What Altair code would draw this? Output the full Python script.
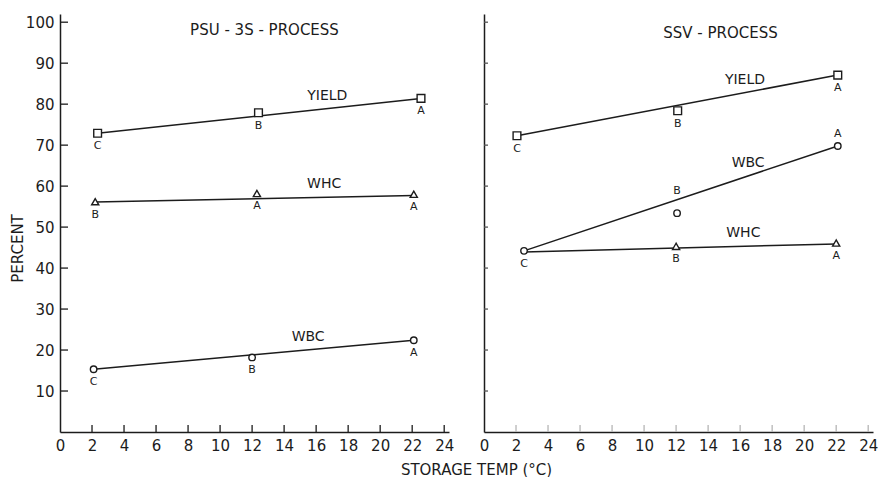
import altair as alt
import pandas as pd

FONT = "DejaVu Sans"
INK = "#1c1c1c"

# ---- measurements: storage temperature (°C), percent, grouping letter ----
panel_names = ["PSU - 3S - PROCESS", "SSV - PROCESS"]
series_names = ["YIELD", "WHC", "WBC"]
series_shapes = ["square", "triangle-up", "circle"]

psu_yield_temp = [2.35, 12.4, 22.55]
psu_yield_pct = [72.9, 77.9, 81.4]
psu_yield_grp = ["C", "B", "A"]

psu_whc_temp = [2.2, 12.3, 22.1]
psu_whc_pct = [56.2, 58.2, 58.0]
psu_whc_grp = ["B", "A", "A"]

psu_wbc_temp = [2.1, 12.0, 22.1]
psu_wbc_pct = [15.3, 18.2, 22.4]
psu_wbc_grp = ["C", "B", "A"]

ssv_yield_temp = [2.06, 12.1, 22.1]
ssv_yield_pct = [72.3, 78.4, 87.1]
ssv_yield_grp = ["C", "B", "A"]

ssv_wbc_temp = [2.5, 12.06, 22.1]
ssv_wbc_pct = [44.2, 53.4, 69.8]
ssv_wbc_grp = ["C", "B", "A"]
ssv_wbc_side = ["below", "high", "above"]

ssv_whc_temp = [12.0, 22.0]
ssv_whc_pct = [45.3, 46.1]
ssv_whc_grp = ["B", "A"]

# fitted trend lines (end points)
psu_yield_fit_temp = [2.35, 22.55]
psu_yield_fit_pct = [72.9, 81.4]
psu_whc_fit_temp = [2.2, 22.1]
psu_whc_fit_pct = [56.1, 57.7]
psu_wbc_fit_temp = [2.1, 22.1]
psu_wbc_fit_pct = [15.3, 22.4]
ssv_yield_fit_temp = [2.06, 22.1]
ssv_yield_fit_pct = [72.3, 87.1]
ssv_wbc_fit_temp = [2.5, 22.1]
ssv_wbc_fit_pct = [44.2, 69.8]
ssv_whc_fit_temp = [2.5, 22.0]
ssv_whc_fit_pct = [43.9, 45.9]

# temperature at which each series name is written along its line
psu_label_temp = {"YIELD": 16.7, "WHC": 16.5, "WBC": 15.5}
ssv_label_temp = {"YIELD": 16.3, "WHC": 16.2, "WBC": 16.5}

x_tick_values = [0, 2, 4, 6, 8, 10, 12, 14, 16, 18, 20, 22, 24]
x_tick_marks = [2, 4, 6, 8, 10, 12, 14, 16, 18, 20, 22, 24]
y_tick_values = [10, 20, 30, 40, 50, 60, 70, 80, 90, 100]

# ---- tables ----
point_rows, fit_rows, label_rows = [], [], []

def add_points(panel, series, temps, pcts, grps, sides=None):
    for i, (t, p, g) in enumerate(zip(temps, pcts, grps)):
        point_rows.append({"panel": panel, "series": series, "temp": t, "pct": p,
                           "grp": g, "side": sides[i] if sides else "below"})

def add_fit(panel, series, temps, pcts, label_t):
    for t, p in zip(temps, pcts):
        fit_rows.append({"panel": panel, "series": series, "temp": t, "pct": p})
    t0, t1 = temps
    p0, p1 = pcts
    label_rows.append({"panel": panel, "series": series, "temp": label_t,
                       "pct": p0 + (p1 - p0) * (label_t - t0) / (t1 - t0)})

psu, ssv = panel_names
add_points(psu, "YIELD", psu_yield_temp, psu_yield_pct, psu_yield_grp)
add_points(psu, "WHC", psu_whc_temp, psu_whc_pct, psu_whc_grp)
add_points(psu, "WBC", psu_wbc_temp, psu_wbc_pct, psu_wbc_grp)
add_points(ssv, "YIELD", ssv_yield_temp, ssv_yield_pct, ssv_yield_grp)
add_points(ssv, "WBC", ssv_wbc_temp, ssv_wbc_pct, ssv_wbc_grp, ssv_wbc_side)
add_points(ssv, "WHC", ssv_whc_temp, ssv_whc_pct, ssv_whc_grp)

add_fit(psu, "YIELD", psu_yield_fit_temp, psu_yield_fit_pct, psu_label_temp["YIELD"])
add_fit(psu, "WHC", psu_whc_fit_temp, psu_whc_fit_pct, psu_label_temp["WHC"])
add_fit(psu, "WBC", psu_wbc_fit_temp, psu_wbc_fit_pct, psu_label_temp["WBC"])
add_fit(ssv, "YIELD", ssv_yield_fit_temp, ssv_yield_fit_pct, ssv_label_temp["YIELD"])
add_fit(ssv, "WBC", ssv_wbc_fit_temp, ssv_wbc_fit_pct, ssv_label_temp["WBC"])
add_fit(ssv, "WHC", ssv_whc_fit_temp, ssv_whc_fit_pct, ssv_label_temp["WHC"])

points = pd.DataFrame(point_rows)
fits = pd.DataFrame(fit_rows)
labels = pd.DataFrame(label_rows)
x_ticks_df = pd.DataFrame({"temp": x_tick_marks})
y_ticks_df = pd.DataFrame({"pct": y_tick_values})

W, H = 389, 418
x_scale = alt.Scale(domain=[0, 24.3], nice=False, zero=False)
y_scale = alt.Scale(domain=[0, 102], nice=False, zero=False)
shape_scale = alt.Scale(domain=series_names, range=series_shapes)
size_scale = alt.Scale(domain=series_names, range=[60, 42, 52])


def make_panel(name, first, title_dx, title_top):
    x_kw = dict(values=x_tick_values, ticks=False, grid=False, labelPadding=6,
                labelFontSize=15, labelFlush=False, format="d")
    y_kw = dict(values=y_tick_values, ticks=False, grid=False, labelPadding=6,
                labelFontSize=15, labelFlush=False, format="d")
    if first:
        x_kw.update(title="STORAGE TEMP (°C)", titleX=416, titleY=37,
                    titleAlign="center", titleBaseline="middle", titleFontSize=15)
        y_kw.update(title="PERCENT", titleX=-43, titleY=234, titleAngle=-90,
                    titleAlign="center", titleBaseline="middle", titleFontSize=15)
        tick_len, tick_color, xtick_color = 8, INK, INK
    else:
        x_kw.update(title=None)
        y_kw.update(title=None, labels=False)
        tick_len, tick_color, xtick_color = 4, "#555555", "#b5b5b5"
    x_axis = alt.Axis(**x_kw)
    y_axis = alt.Axis(**y_kw)
    X = alt.X("temp:Q", scale=x_scale, axis=x_axis)
    Y = alt.Y("pct:Q", scale=y_scale, axis=y_axis)

    pts = points[points.panel == name]

    y_ticks = alt.Chart(y_ticks_df).mark_rule(color=tick_color, strokeWidth=1.3).encode(
        y=Y, x=alt.value(0), x2=alt.value(tick_len))
    x_ticks = alt.Chart(x_ticks_df).mark_rule(color=xtick_color, strokeWidth=1.3).encode(
        x=X, y=alt.value(H), y2=alt.value(H - 7))
    lines = alt.Chart(fits[fits.panel == name]).mark_line(
        color=INK, strokeWidth=1.5).encode(x=X, y=Y, detail="series:N")
    markers = alt.Chart(pts).mark_point(
        filled=True, fill="white", stroke=INK, strokeWidth=1.4, opacity=1).encode(
        x=X, y=Y,
        shape=alt.Shape("series:N", scale=shape_scale, legend=None),
        size=alt.Size("series:N", scale=size_scale, legend=None))

    def letters(side, dy):
        return alt.Chart(pts[pts.side == side]).mark_text(
            font=FONT, fontSize=11, color=INK, baseline="middle", dy=dy).encode(
            x=X, y=Y, text="grp:N")

    names = alt.Chart(labels[labels.panel == name]).mark_text(
        font=FONT, fontSize=14, color=INK, baseline="middle", dy=-13).encode(
        x=X, y=Y, text="series:N")

    # panel heading, written inside the top of the plot frame
    heading = alt.Chart(pd.DataFrame({"panel": [name]})).mark_text(
        font=FONT, fontSize=15, color=INK, baseline="middle", align="center").encode(
        text="panel:N", x=alt.value(W / 2 + title_dx), y=alt.value(title_top))

    layers = [y_ticks, x_ticks, lines, markers, letters("below", 13), names, heading]
    if (pts.side == "above").any():
        layers.append(letters("above", -12))
    if (pts.side == "high").any():
        layers.append(letters("high", -22))

    return alt.layer(*layers).properties(width=W, height=H)


left = make_panel(psu, True, 10, 16)
right = make_panel(ssv, False, 42, 19)

chart = alt.hconcat(left, right, spacing=35, bounds="flush").properties(
    padding={"left": 10, "top": 14, "right": 0, "bottom": 0},
    background="white",
).configure_view(strokeWidth=0).configure_axis(
    labelFont=FONT, titleFont=FONT, labelColor=INK, titleColor=INK,
    titleFontWeight="normal", domainColor=INK, domainWidth=1.5,
)

chart.save("out.html", embed_options={"renderer": "svg", "actions": False})
